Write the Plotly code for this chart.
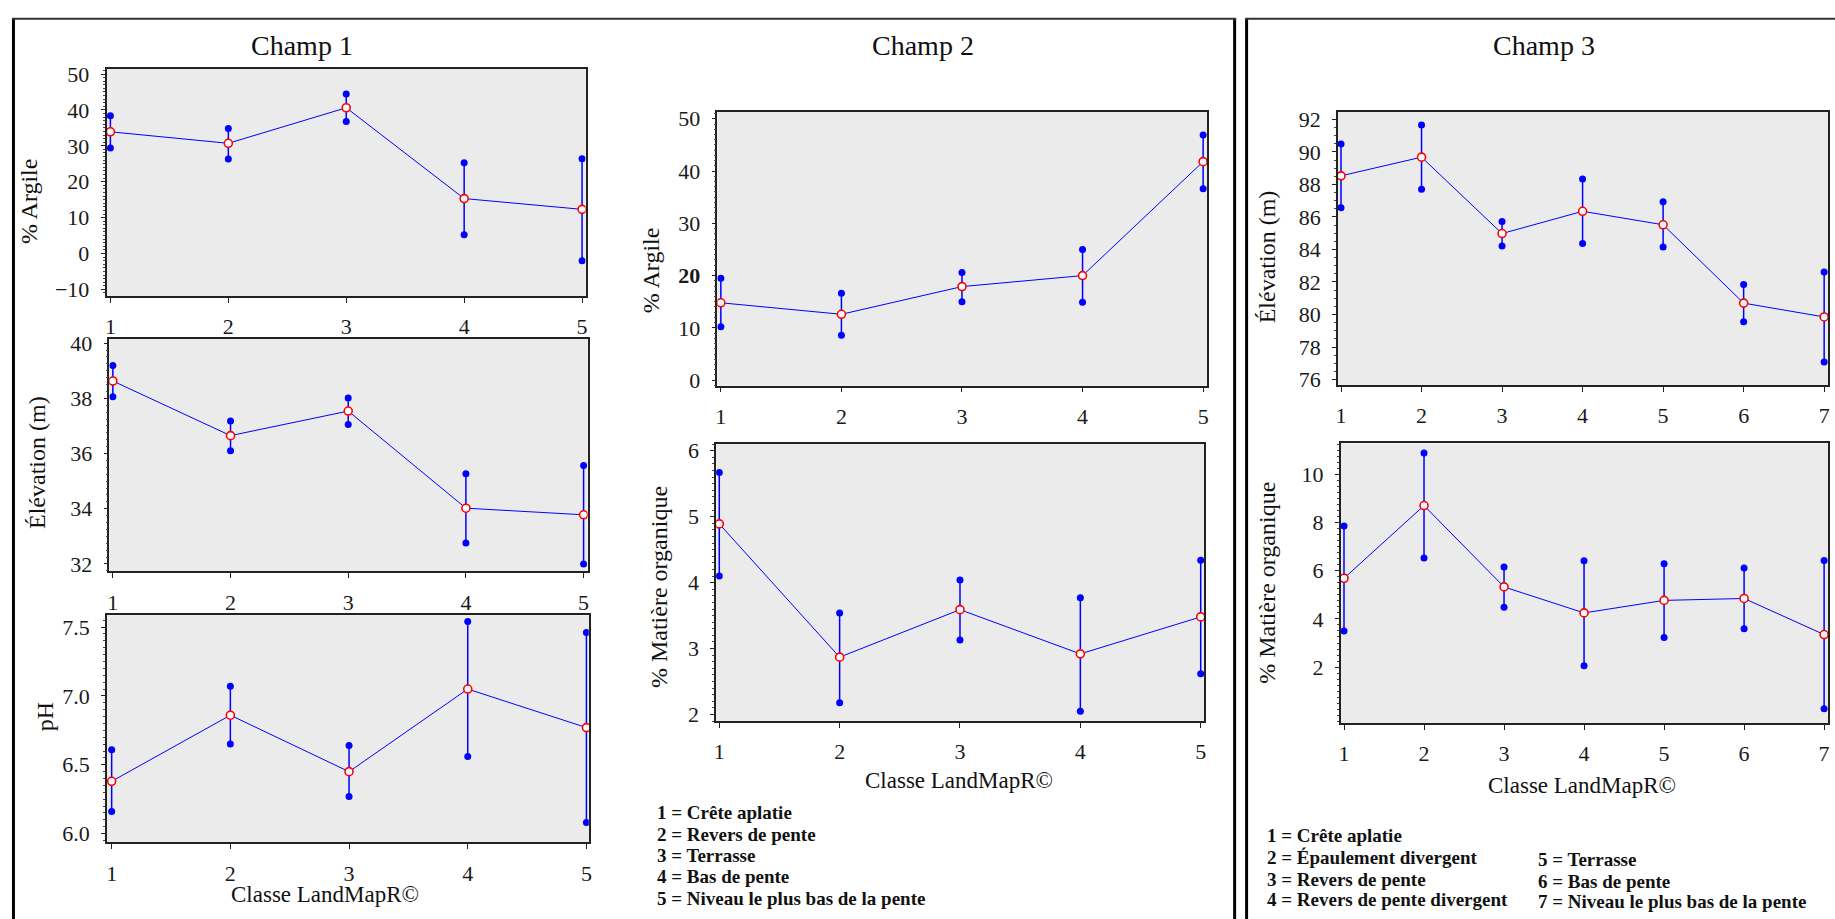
import plotly.graph_objects as go

W, H = 1835, 919

# ---------------- data ----------------
classes_5 = [1, 2, 3, 4, 5]
classes_7 = [1, 2, 3, 4, 5, 6, 7]

c1_argile_mean = [33.9, 30.7, 40.6, 15.3, 12.3]
c1_argile_low = [29.4, 26.3, 36.8, 5.2, -2.0]
c1_argile_high = [38.4, 34.8, 44.4, 25.3, 26.4]

c1_elev_mean = [38.63, 36.65, 37.54, 34.02, 33.78]
c1_elev_low = [38.06, 36.10, 37.05, 32.76, 32.0]
c1_elev_high = [39.19, 37.18, 38.01, 35.27, 35.57]

c1_ph_mean = [6.38, 6.86, 6.45, 7.05, 6.77]
c1_ph_low = [6.16, 6.65, 6.27, 6.56, 6.08]
c1_ph_high = [6.61, 7.07, 6.64, 7.54, 7.46]

c2_argile_mean = [14.8, 12.6, 17.9, 20.0, 41.8]
c2_argile_low = [10.2, 8.6, 15.0, 14.9, 36.6]
c2_argile_high = [19.5, 16.6, 20.6, 25.0, 46.9]

c2_mo_mean = [4.89, 2.87, 3.59, 2.92, 3.48]
c2_mo_low = [4.10, 2.18, 3.13, 2.05, 2.62]
c2_mo_high = [5.67, 3.54, 4.04, 3.77, 4.34]

c3_elev_mean = [88.53, 89.68, 84.98, 86.35, 85.52, 80.70, 79.85]
c3_elev_low = [86.57, 87.70, 84.21, 84.37, 84.15, 79.55, 77.07]
c3_elev_high = [90.49, 91.66, 85.72, 88.33, 86.94, 81.85, 82.61]

c3_mo_mean = [5.69, 8.71, 5.33, 4.25, 4.77, 4.85, 3.35]
c3_mo_low = [3.50, 6.53, 4.49, 2.05, 3.23, 3.59, 0.27]
c3_mo_high = [7.86, 10.89, 6.16, 6.42, 6.29, 6.12, 6.43]

champ_titles = ["Champ 1", "Champ 2", "Champ 3"]
x_title = "Classe LandMapR©"
y_titles = ["% Argile", "Élévation (m)", "pH", "% Argile", "% Matière organique",
            "Élévation (m)", "% Matière organique"]

legend_c2 = ["1 = Crête aplatie", "2 = Revers de pente", "3 = Terrasse",
             "4 = Bas de pente", "5 = Niveau le plus bas de la pente"]
legend_c3_col1 = ["1 = Crête aplatie", "2 = Épaulement divergent", "3 = Revers de pente",
                  "4 = Revers de pente divergent"]
legend_c3_col2 = ["5 = Terrasse", "6 = Bas de pente", "7 = Niveau le plus bas de la pente"]

tick_c1_argile = [-10, 0, 10, 20, 30, 40, 50]
tick_c1_elev = [32, 34, 36, 38, 40]
tick_c1_ph = [6.0, 6.5, 7.0, 7.5]
tick_c1_ph_text = ["6.0", "6.5", "7.0", "7.5"]
tick_c2_argile = [0, 10, 20, 30, 40, 50]
tick_c2_argile_text = ["0", "10", "<b>20</b>", "30", "40", "50"]
tick_c2_mo = [2, 3, 4, 5, 6]
tick_c3_elev = [76, 78, 80, 82, 84, 86, 88, 90, 92]
tick_c3_mo = [2, 4, 6, 8, 10]

# ---------------- layout helpers ----------------
FONT = "Liberation Serif, Times New Roman, serif"
BLUE = "#0000ff"
RED = "#ff0000"


def px(x):
    return x / W


def py(y):
    return 1 - y / H


panels = [
    dict(x=classes_5, m=c1_argile_mean, lo=c1_argile_low, hi=c1_argile_high,
         xd=(104.8, 585.2), yd=(62, 293), xr=(0.967, 5.03), yr=(-11.9, 51.4),
         tv=tick_c1_argile, tt=None, minor=1),
    dict(x=classes_5, m=c1_elev_mean, lo=c1_elev_low, hi=c1_elev_high,
         xd=(107.6, 587.2), yd=(336, 572.7), xr=(0.97, 5.034), yr=(31.73, 40.17),
         tv=tick_c1_elev, tt=None, minor=0.25),
    dict(x=classes_5, m=c1_ph_mean, lo=c1_ph_low, hi=c1_ph_high,
         xd=(105.2, 588.4), yd=(617.3, 848.3), xr=(0.96, 5.02), yr=(5.936, 7.586),
         tv=tick_c1_ph, tt=tick_c1_ph_text, minor=0.05),
    dict(x=classes_5, m=c2_argile_mean, lo=c2_argile_low, hi=c2_argile_high,
         xd=(717.3, 1208.4), yd=(105.3, 384), xr=(0.971, 5.033), yr=(-1.07, 51.38),
         tv=tick_c2_argile, tt=tick_c2_argile_text, minor=1),
    dict(x=classes_5, m=c2_mo_mean, lo=c2_mo_low, hi=c2_mo_high,
         xd=(716.1, 1205.6), yd=(443.3, 725), xr=(0.974, 5.03), yr=(1.90, 6.10),
         tv=tick_c2_mo, tt=None, minor=0.1),
    dict(x=classes_7, m=c3_elev_mean, lo=c3_elev_low, hi=c3_elev_high,
         xd=(1339.6, 1831.1), yd=(105.7, 383.3), xr=(0.962, 7.049), yr=(75.66, 92.46),
         tv=tick_c3_elev, tt=None, minor=0.5),
    dict(x=classes_7, m=c3_mo_mean, lo=c3_mo_low, hi=c3_mo_high,
         xd=(1342.3, 1831.1), yd=(442.7, 726.7), xr=(0.958, 7.05), yr=(-0.317, 11.29),
         tv=tick_c3_mo, tt=None, minor=0.25),
]

fig = go.Figure()
layout = {}

for i, p in enumerate(panels):
    n = "" if i == 0 else str(i + 1)
    xa, ya = "x" + n, "y" + n
    sx, sy = [], []
    for xv, l, h in zip(p["x"], p["lo"], p["hi"]):
        sx += [xv, xv, None]
        sy += [l, h, None]
    fig.add_trace(go.Scatter(x=sx, y=sy, mode="lines+markers", xaxis=xa, yaxis=ya,
                             line=dict(color=BLUE, width=1.5),
                             marker=dict(color=BLUE, size=7, line=dict(width=0)),
                             showlegend=False, hoverinfo="skip"))
    fig.add_trace(go.Scatter(x=p["x"], y=p["m"], mode="lines+markers", xaxis=xa, yaxis=ya,
                             line=dict(color=BLUE, width=1),
                             marker=dict(color="white", size=8, line=dict(color=RED, width=1.6)),
                             showlegend=False))
    layout["xaxis" + n] = dict(
        domain=[px(p["xd"][0]), px(p["xd"][1])], anchor=ya, range=list(p["xr"]),
        tickvals=p["x"], ticks="outside", ticklen=5, tickwidth=1, tickcolor="#222",
        showline=True, mirror=True, linecolor="#222", linewidth=1.5,
        showgrid=False, zeroline=False, ticklabelstandoff=5,
        tickfont=dict(family=FONT, size=22, color="#1a1a1a"),
    )
    ydict = dict(
        domain=[py(p["yd"][1]), py(p["yd"][0])], anchor=xa, range=list(p["yr"]),
        tickvals=p["tv"], ticks="outside", ticklen=4, tickwidth=1, tickcolor="#222",
        showline=True, mirror=True, linecolor="#222", linewidth=1.5,
        showgrid=False, zeroline=False, ticklabelstandoff=7,
        tickfont=dict(family=FONT, size=22, color="#1a1a1a"),
        minor=dict(dtick=p["minor"], tick0=0, ticks="outside", ticklen=2, tickcolor="#444",
                   showgrid=False),
    )
    if p["tt"] is not None:
        ydict["ticktext"] = p["tt"]
    layout["yaxis" + n] = ydict

annotations = []


def ann(text, x, y, size, angle=0, bold=False, xanchor="center"):
    annotations.append(dict(
        text=("<b>%s</b>" % text) if bold else text, x=px(x), y=py(y), xref="paper", yref="paper",
        showarrow=False, textangle=angle, xanchor=xanchor, yanchor="middle",
        font=dict(family=FONT, size=size, color="#111")))


for t, x in zip(champ_titles, [300.5, 924, 1546.4]):
    ann(t, x, 38, 28)

ytitle_pos = [(27.7, 196.7), (35.6, 462), (43.5, 720.7), (651.6, 266.7), (659.5, 589),
              (1268.6, 253.3), (1268.6, 584.2)]
for t, (x, y) in zip(y_titles, ytitle_pos):
    ann(t, x, y, 24, angle=-90)

for x, y in [(324.2, 901.7), (960, 785), (1584.2, 790)]:
    ann(x_title, x, y, 23)

for t, y in zip(legend_c2, [818.3, 840, 861.7, 883.3, 905]):
    ann(t, 654.8, y, 19, bold=True, xanchor="left")
for t, y in zip(legend_c3_col1, [841.7, 864, 885.7, 906.7]):
    ann(t, 1266.7, y, 19, bold=True, xanchor="left")
for t, y in zip(legend_c3_col2, [865.7, 887.7, 908.3]):
    ann(t, 1538.6, y, 19, bold=True, xanchor="left")

shapes = [
    dict(type="line", xref="paper", yref="paper", x0=px(11.5), x1=px(11.5), y0=py(11), y1=py(940),
         line=dict(color="black", width=3)),
    dict(type="line", xref="paper", yref="paper", x0=px(1236), x1=px(1236), y0=py(11), y1=py(940),
         line=dict(color="black", width=3)),
    dict(type="line", xref="paper", yref="paper", x0=px(10), x1=px(1237.5), y0=py(11), y1=py(11),
         line=dict(color="#333", width=2)),
    dict(type="line", xref="paper", yref="paper", x0=px(1248), x1=px(1248), y0=py(11), y1=py(940),
         line=dict(color="black", width=3)),
    dict(type="line", xref="paper", yref="paper", x0=px(1246.5), x1=px(1840), y0=py(11), y1=py(11),
         line=dict(color="#333", width=2)),
]

fig.update_layout(
    width=W, height=H, autosize=False,
    margin=dict(l=0, r=0, t=0, b=0, pad=0),
    paper_bgcolor="white", plot_bgcolor="#ebebeb",
    font=dict(family=FONT, color="#111"),
    showlegend=False,
    annotations=annotations, shapes=shapes,
    **layout,
)

fig.write_html("out.html", config={"displayModeBar": False},
               post_script="document.body.style.margin='0';document.body.style.overflow='hidden';")
